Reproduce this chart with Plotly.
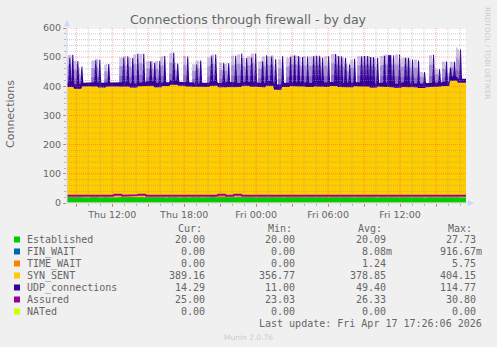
import plotly.graph_objects as go
from datetime import datetime, timedelta

# ---------------- data ----------------
FIRST_SAMPLE = "2026-04-16 08:10"   # first 5-minute sample
STEP_MIN = 5
N_SAMPLES = 401
COARSE = 8                           # the arrays below hold one value per 40 minutes

established = [20, 20, 20, 20, 20, 20, 20, 20, 20, 20, 20, 20, 20, 20, 20, 20, 20, 20, 20, 20,
               20, 20, 20, 20, 20, 20, 20, 20, 20, 20, 20, 20, 20, 20, 20, 20, 20, 20, 20, 20,
               20, 20, 20, 20, 20, 20, 20, 20, 20, 20]
fin_wait = [0, 0, 0, 0, 0, 0, 0, 0, 0, 0, 0, 0, 0, 0, 0, 0, 0, 0, 0, 0,
            0, 0, 0, 0, 0, 0, 0, 0, 0, 0, 0.4, 0, 0, 0, 0, 0, 0, 0, 0, 0,
            0, 0, 0, 0, 0, 0, 0, 0, 0, 0]
time_wait = [1, 1, 2, 1, 0, 1, 1, 2, 1, 1, 1, 0, 1, 2, 1, 1, 1, 1, 3, 1,
             1, 1, 2, 1, 1, 1, 5, 1, 1, 1, 2, 1, 1, 1, 0, 1, 1, 2, 1, 1,
             1, 1, 1, 2, 1, 1, 1, 1, 1, 0]
syn_sent = [377, 371, 377, 379, 376, 378, 380, 377, 375, 379, 381, 377, 380, 383, 381, 378, 376, 377, 379, 376,
            378, 377, 380, 378, 376, 381, 363, 377, 380, 378, 375, 379, 377, 380, 378, 376, 379, 377, 375, 378,
            376, 374, 377, 375, 373, 376, 378, 380, 398, 392]
udp_base = [14, 15, 13, 14, 16, 14, 13, 15, 14, 13, 15, 14, 13, 16, 14, 15, 13, 14, 15, 14,
            16, 13, 14, 15, 14, 16, 18, 14, 13, 15, 14, 16, 15, 14, 13, 15, 14, 16, 14, 13,
            15, 14, 16, 13, 15, 14, 13, 15, 14, 14]
assured = [25, 25, 26, 25, 25, 25, 28, 25, 27, 28, 25, 27, 25, 26, 25, 25, 25, 25, 25, 28,
           25, 28, 25, 27, 25, 26, 25, 25, 26, 25, 25, 25, 26, 25, 25, 25, 25, 25, 25, 25,
           25, 26, 25, 25, 25, 25, 25, 25, 25, 25]
nated = [0, 0, 0, 0, 0, 0, 0, 0, 0, 0, 0, 0, 0, 0, 0, 0, 0, 0, 0, 0,
         0, 0, 0, 0, 0, 0, 0, 0, 0, 0, 0, 0, 0, 0, 0, 0, 0, 0, 0, 0,
         0, 0, 0, 0, 0, 0, 0, 0, 0, 0]

# UDP connection bursts (time, UDP value at the burst)
spike_times = [
    "2026-04-16 08:30", "2026-04-16 08:45", "2026-04-16 09:10", "2026-04-16 09:30", "2026-04-16 10:40",
    "2026-04-16 11:00", "2026-04-16 11:45", "2026-04-16 13:00", "2026-04-16 13:20", "2026-04-16 13:45",
    "2026-04-16 14:10", "2026-04-16 14:40", "2026-04-16 15:15", "2026-04-16 15:35", "2026-04-16 16:00",
    "2026-04-16 16:25", "2026-04-16 17:10", "2026-04-16 17:30", "2026-04-16 18:20", "2026-04-16 19:05",
    "2026-04-16 19:25", "2026-04-16 20:20", "2026-04-16 20:40", "2026-04-16 21:20", "2026-04-16 21:45",
    "2026-04-16 22:20", "2026-04-16 22:50", "2026-04-16 23:15", "2026-04-16 23:40",
    "2026-04-17 00:00", "2026-04-17 00:35", "2026-04-17 00:55", "2026-04-17 01:20", "2026-04-17 01:40",
    "2026-04-17 02:15", "2026-04-17 02:55", "2026-04-17 03:15", "2026-04-17 03:35", "2026-04-17 03:55",
    "2026-04-17 04:20", "2026-04-17 04:50", "2026-04-17 05:05", "2026-04-17 05:20", "2026-04-17 05:35",
    "2026-04-17 06:05", "2026-04-17 06:40", "2026-04-17 06:55", "2026-04-17 07:10", "2026-04-17 07:30",
    "2026-04-17 07:50", "2026-04-17 08:15", "2026-04-17 08:50", "2026-04-17 09:05", "2026-04-17 09:20",
    "2026-04-17 09:35", "2026-04-17 09:50", "2026-04-17 10:10", "2026-04-17 10:45", "2026-04-17 11:05",
    "2026-04-17 11:15", "2026-04-17 11:30", "2026-04-17 12:00", "2026-04-17 12:30", "2026-04-17 12:45",
    "2026-04-17 13:05", "2026-04-17 13:35", "2026-04-17 14:05", "2026-04-17 14:50", "2026-04-17 15:20",
    "2026-04-17 15:55", "2026-04-17 16:15", "2026-04-17 16:35", "2026-04-17 17:05"]
spike_udp = [100, 110, 95, 72, 89, 95, 78, 99, 104, 101,
             114, 112, 84, 84, 90, 103, 110, 75, 103, 78,
             92, 101, 107, 84, 80, 107, 112, 95, 101,
             114, 89, 105, 100, 105, 105, 100, 105, 105, 102,
             105, 105, 105, 105, 100, 105, 110, 105, 105, 100,
             78, 95, 103, 105, 105, 105, 105, 100, 105, 110,
             110, 110, 114, 100, 100, 95, 95, 55, 110, 60,
             84, 45, 65, 114]
assert len(spike_times) == len(spike_udp)

series_names = ["Established", "FIN_WAIT", "TIME_WAIT", "SYN_SENT", "UDP_connections", "Assured", "NATed"]
series_colors = ["#00CC00", "#0066B3", "#FF8000", "#FFCC00", "#330099", "#990099", "#CCFF00"]
cur_vals = [20.00, 0.00, 0.00, 389.16, 14.29, 25.00, 0.00]
min_vals = [20.00, 0.00, 0.00, 356.77, 11.00, 23.03, 0.00]
avg_vals = [20.09, 0.00808, 1.24, 378.85, 49.40, 26.33, 0.00]
max_vals = [27.73, 0.91667, 5.75, 404.15, 114.77, 30.80, 0.00]

x_tick_vals = ["2026-04-16 09:00", "2026-04-16 12:00", "2026-04-16 15:00", "2026-04-16 18:00",
               "2026-04-16 21:00", "2026-04-17 00:00", "2026-04-17 03:00", "2026-04-17 06:00",
               "2026-04-17 09:00", "2026-04-17 12:00", "2026-04-17 15:00"]
x_tick_text = ["", "Thu 12:00", "", "Thu 18:00", "", "Fri 00:00", "", "Fri 06:00", "", "Fri 12:00", ""]
y_tick_vals = [0, 100, 200, 300, 400, 500, 600]

TITLE = "Connections through firewall - by day"
Y_TITLE = "Connections"
LAST_UPDATE = "Last update: Fri Apr 17 17:26:06 2026"
WATERMARK = "Munin 2.0.76"
SIGNATURE = "RRDTOOL / TOBI OETIKER"

# ---------------- build series ----------------
t0 = datetime.fromisoformat(FIRST_SAMPLE)
times = [t0 + timedelta(minutes=STEP_MIN * k) for k in range(N_SAMPLES)]


def hold(arr):
    return [arr[min(k // COARSE, len(arr) - 1)] for k in range(N_SAMPLES)]


est = hold(established)
fw = hold(fin_wait)
tw = hold(time_wait)
syn = hold(syn_sent)
udp = hold(udp_base)
asr = hold(assured)
nat = hold(nated)
base = [est[k] + fw[k] + tw[k] + syn[k] for k in range(N_SAMPLES)]

# translucent "haze" left of each burst (RRD anti-aliased rendering of the burst)
HAZE_LEVELS = [0.35, 0.7, 1.0]
haze = [[0.0] * N_SAMPLES for _ in HAZE_LEVELS]
for ts, v in zip(spike_times, spike_udp):
    k = round((datetime.fromisoformat(ts) - t0).total_seconds() / (60 * STEP_MIN))
    for j in (k - 1, k):
        if 0 <= j < N_SAMPLES:
            udp[j] = max(udp[j], v)
    for j in range(k - 5, k - 1):
        if 0 <= j < N_SAMPLES:
            for h, lev in zip(haze, HAZE_LEVELS):
                h[j] = max(h[j], lev * v)

FIG_W, FIG_H = 497, 347
PL, PR, PT, PB = 67, 466, 28, 203


def px(x):
    return (x - PL) / (PR - PL)


def py(y):
    return (PB - y) / (PB - PT)


FONT = "DejaVu Sans"
MONO = "DejaVu Sans Mono"
TXT = "#666666"

fig = go.Figure()

for h in haze:
    top = [base[k] + h[k] if h[k] else 0 for k in range(N_SAMPLES)]
    fig.add_trace(go.Scatter(x=times, y=top, mode="lines", fill="tozeroy",
                             line=dict(width=0), fillcolor="rgba(51,0,153,0.24)",
                             hoverinfo="skip", showlegend=False))

for name, vals, col in [("Established", est, series_colors[0]),
                        ("FIN_WAIT", fw, series_colors[1]),
                        ("TIME_WAIT", tw, series_colors[2]),
                        ("SYN_SENT", syn, series_colors[3]),
                        ("UDP_connections", udp, series_colors[4])]:
    fig.add_trace(go.Scatter(x=times, y=vals, name=name, mode="lines", stackgroup="s",
                             line=dict(width=0, color=col), fillcolor=col,
                             showlegend=False))

fig.add_trace(go.Scatter(x=times, y=asr, name="Assured", mode="lines",
                         line=dict(width=2, color=series_colors[5]), showlegend=False))
fig.add_trace(go.Scatter(x=times, y=nat, name="NATed", mode="lines",
                         line=dict(width=1, color=series_colors[6]), showlegend=False))

shapes = []
MINOR = "rgba(144,144,144,0.45)"
MAJOR = "rgba(224,80,80,0.45)"
for yv in range(20, 601, 20):
    shapes.append(dict(type="line", xref="paper", yref="y", x0=0, x1=1, y0=yv, y1=yv, layer="above",
                       line=dict(color=MAJOR if yv % 100 == 0 else MINOR, width=1, dash="1px,1px")))
t = datetime(2026, 4, 16, 9, 0)
while t <= datetime(2026, 4, 17, 17, 0):
    shapes.append(dict(type="line", xref="x", yref="paper", x0=t, x1=t, y0=0, y1=1, layer="above",
                       line=dict(color=MAJOR if t.hour % 3 == 0 else MINOR, width=1, dash="1px,1px")))
    t += timedelta(hours=1)

AXIS = "#CFD6F8"
shapes.append(dict(type="line", xref="paper", yref="paper", x0=px(PL), x1=px(470), y0=py(PB), y1=py(PB),
                   layer="above", line=dict(color=AXIS, width=1)))
shapes.append(dict(type="line", xref="paper", yref="paper", x0=px(PL), x1=px(PL), y0=py(PB), y1=py(24),
                   layer="above", line=dict(color=AXIS, width=1)))
shapes.append(dict(type="path", xref="paper", yref="paper", layer="above", line=dict(width=0), fillcolor=AXIS,
                   path=f"M {px(64)},{py(26)} L {px(70)},{py(26)} L {px(67)},{py(20)} Z"))
shapes.append(dict(type="path", xref="paper", yref="paper", layer="above", line=dict(width=0), fillcolor=AXIS,
                   path=f"M {px(468)},{py(200)} L {px(468)},{py(206)} L {px(474)},{py(203)} Z"))

annotations = []


def text(x, y, s, size, font=FONT, color=TXT, xanchor="left", angle=0):
    annotations.append(dict(xref="paper", yref="paper", x=px(x), y=py(y), text=s, showarrow=False,
                            xanchor=xanchor, yanchor="middle", textangle=angle, borderpad=0,
                            font=dict(family=font, size=size, color=color)))


text(248, 19, TITLE, 12.6, xanchor="center")
text(10, 114, Y_TITLE, 11, xanchor="center", angle=-90)
text(488, 53, SIGNATURE, 7.2, color="#CCCCCC", xanchor="center", angle=90)

COL_RIGHT = [206, 296, 386.5, 476.5]
HEAD_LEFT = [177, 267, 357, 447]
for xh, hd in zip(HEAD_LEFT, ["Cur:", "Min:", "Avg:", "Max:"]):
    text(xh, 228, hd, 10, font=MONO)


def fmt(v):
    if 0 < abs(v) < 1:
        return f"{v * 1000:.2f}m", True
    return f"{v:.2f}", False


for i, name in enumerate(series_names):
    yc = 239.5 + 12 * i
    shapes.append(dict(type="rect", xref="paper", yref="paper", x0=px(14), x1=px(20),
                       y0=py(yc + 3), y1=py(yc - 3), line=dict(width=0), fillcolor=series_colors[i]))
    text(26, yc, name, 10, font=MONO)
    for c, arr in enumerate([cur_vals, min_vals, avg_vals, max_vals]):
        s, milli = fmt(arr[i])
        text(COL_RIGHT[c] + (6 if milli else 0), yc, s, 10, font=MONO, xanchor="right")

text(482.5, 323.5, LAST_UPDATE, 10, font=MONO, xanchor="right")
text(248, 337, WATERMARK, 7.5, color="#CCCCCC", xanchor="center")

fig.update_layout(
    width=FIG_W, height=FIG_H,
    margin=dict(l=PL, r=FIG_W - PR, t=PT, b=FIG_H - PB, pad=0),
    paper_bgcolor="#F0F0F0", plot_bgcolor="#FFFFFF",
    showlegend=False, hovermode=False,
    shapes=shapes, annotations=annotations,
    xaxis=dict(type="date", range=["2026-04-16 08:13:30", "2026-04-17 17:30:00"],
               showgrid=False, zeroline=False, showline=False,
               tickmode="array", tickvals=x_tick_vals, ticktext=x_tick_text,
               ticks="outside", ticklen=3, tickcolor="rgba(224,80,80,0.6)", tickwidth=1,
               minor=dict(ticks="outside", ticklen=2, tickcolor="rgba(144,144,144,0.6)",
                          dtick=3600000, tick0="2026-04-16 00:00", showgrid=False),
               tickfont=dict(family=FONT, size=9.5, color=TXT)),
    yaxis=dict(range=[0, 600], showgrid=False, zeroline=False, showline=False,
               tickmode="array", tickvals=y_tick_vals,
               ticks="outside", ticklen=3, tickcolor="rgba(224,80,80,0.6)", tickwidth=1,
               minor=dict(ticks="outside", ticklen=2, tickcolor="rgba(144,144,144,0.6)",
                          dtick=20, tick0=0, showgrid=False),
               tickfont=dict(family=FONT, size=9.5, color=TXT)),
)

fig.write_html("out.html", config={"displayModeBar": False, "staticPlot": True})
